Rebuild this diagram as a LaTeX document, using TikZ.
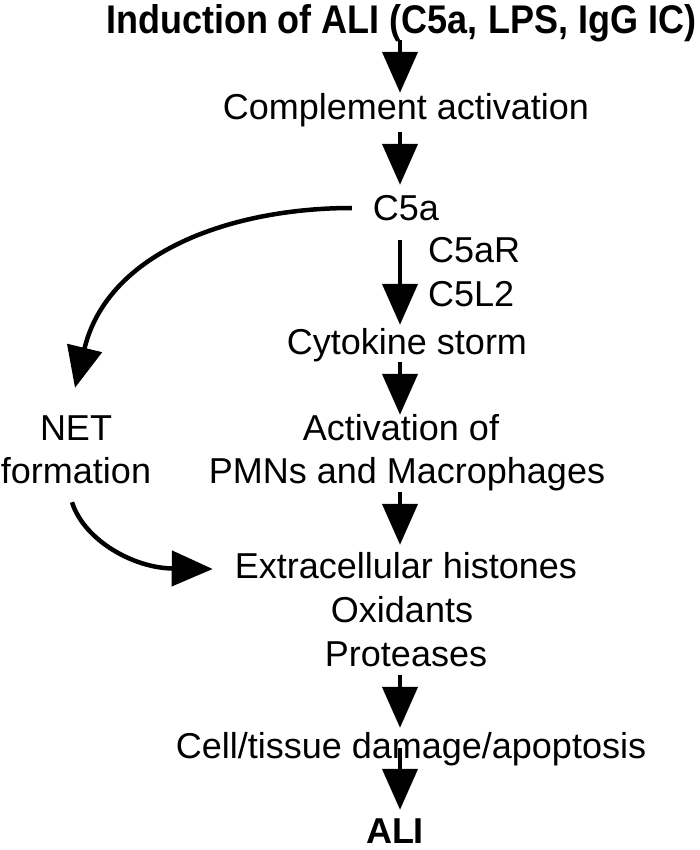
\documentclass[tikz,border=0pt]{standalone}
\usepackage{fontspec}
\setmainfont{Liberation Sans}
\newfontfamily\titlefont[FakeStretch=0.9]{Liberation Sans}
\usetikzlibrary{arrows.meta}
\tikzset{
  txt/.style={font=\fontsize{36}{43}\selectfont, inner sep=0pt, text height=26pt, text depth=8pt, anchor=base},
  ttl/.style={font=\titlefont\bfseries\fontsize{40}{48}\selectfont, inner sep=0pt, text height=29pt, text depth=8pt, anchor=base},
  arr/.style={line width=4.5pt, -{Triangle[length=41pt,width=35pt]}}
}
\begin{document}
\begin{tikzpicture}[x=1pt,y=-1pt]
\useasboundingbox (0,0) rectangle (700,850);
\coordinate (ax) at (400,0);
\node[ttl] (title) at (401,34) {Induction of ALI (C5a, LPS, IgG IC)};
\node[txt] (cpl) at (406,120) {Complement activation};
\node[txt] (c5a) at (406,221) {C5a};
\node[txt, anchor=base west] (c5ar) at (428,262) {C5aR};
\node[txt, anchor=base west] (c5l2) at (428,306) {C5L2};
\node[txt] (cyt) at (407,354) {Cytokine storm};
\node[txt] (act1) at (401,440) {Activation of};
\node[txt] (act2) at (407,483) {PMNs and Macrophages};
\node[txt] (net) at (76,440) {NET};
\node[txt] (form) at (76,483) {formation};
\node[txt] (ext) at (406,578) {Extracellular histones};
\node[txt] (oxi) at (402,622) {Oxidants};
\node[txt] (pro) at (406,666) {Proteases};
\node[txt] (cell) at (411,758) {Cell/tissue damage/apoptosis};
\node[txt, font=\bfseries\fontsize{36}{43}\selectfont] (ali) at (395,843) {ALI};

\draw[arr, shorten <=-2pt, shorten >=1pt] (title.south -| ax) -- (cpl.north -| ax);
\draw[arr, shorten <=4pt, shorten >=10pt] (cpl.south -| ax) -- (c5a.north -| ax);
\draw[arr, shorten <=11pt, shorten >=3pt] (c5a.south -| ax) -- (cyt.north -| ax);
\draw[arr, shorten >=-1pt] (cyt.south -| ax) -- (act1.north -| ax);
\draw[arr, shorten <=1pt, shorten >=7pt] (act2.south -| ax) -- (ext.north -| ax);
\draw[arr, shorten <=1pt, shorten >=4pt] (pro.south -| ax) -- (cell.north -| ax);
\draw[arr, shorten <=-18pt, shorten >=7pt] (cell.south -| ax) -- (ali.north -| ax);

\draw[arr] ([xshift=-21pt,yshift=4pt]c5a.west) .. controls (233,208) and (108,251) .. ([xshift=-1pt,yshift=26pt]net.north);
\draw[arr] ([xshift=-4pt,yshift=-11pt]form.south) .. controls (84,540) and (133,568) .. ([xshift=-22pt]ext.west);
\end{tikzpicture}
\end{document}
